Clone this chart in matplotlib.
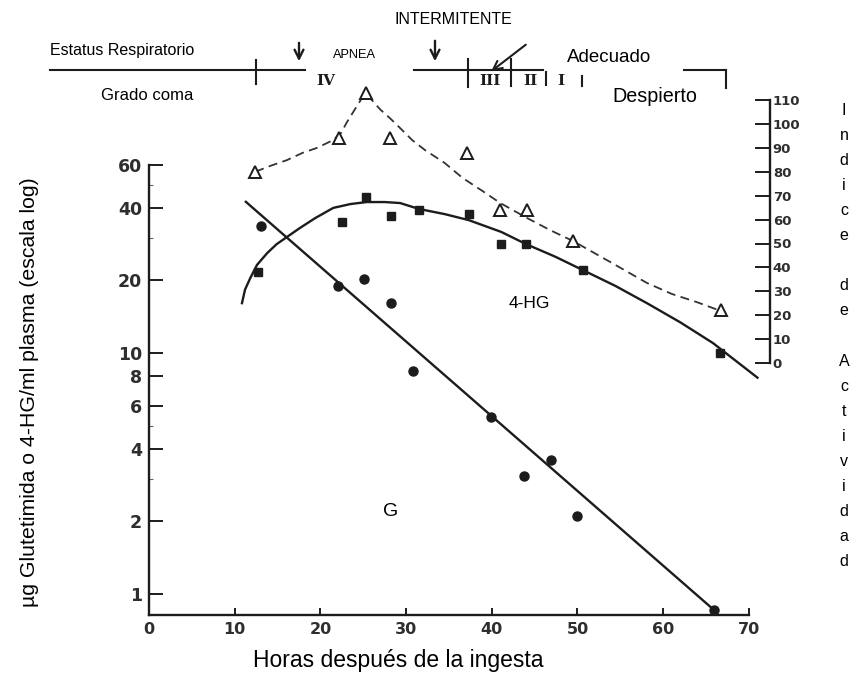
import matplotlib
matplotlib.use("Agg")
import matplotlib.pyplot as plt
from matplotlib.lines import Line2D

# ---- data ----
hours_g = [13.1, 22.1, 25.1, 28.2, 30.8, 39.9, 43.8, 46.9, 49.9, 65.9]
glut = [33.6, 19.0, 20.3, 16.1, 8.4, 5.4, 3.1, 3.6, 2.1, 0.86]

hours_hg = [12.7, 22.5, 25.3, 28.2, 31.5, 37.3, 41.1, 44.0, 50.6, 66.6]
hg4 = [21.7, 35.0, 44.4, 37.0, 39.2, 37.7, 28.3, 28.3, 22.1, 10.0]

hours_act = [12.4, 22.2, 25.3, 28.1, 37.1, 41.0, 44.1, 49.5, 66.7]
activity = [80, 94, 113, 94, 88, 64, 64, 51, 22]

# hand-drawn fitted lines of the original
g_fit_hours = [11.3, 65.9]
g_fit_vals = [42.4, 0.86]

hg_fit_hours = [10.85, 11.2, 11.8, 12.6, 13.8, 14.9, 16.1, 17.6, 19.4, 21.5, 23.5, 25.4,
                27.5, 29.3, 31.5, 34.5, 37.3, 41.1, 44.0, 47.4, 50.6, 54.4, 58.1, 62.0,
                65.8, 71.0]
hg_fit_vals = [16.1, 18.3, 20.4, 23.2, 26.0, 28.3, 30.3, 33.0, 36.3, 40.0, 41.5, 42.3,
               42.3, 41.9, 39.6, 37.7, 35.6, 31.8, 28.3, 25.1, 22.1, 19.0, 16.1, 13.4,
               11.0, 7.9]

act_fit_hours = [12.4, 14.1, 16.1, 17.9, 19.6, 21.5, 22.4, 23.1, 24.0, 24.7, 25.3, 26.0,
                 27.0, 28.1, 29.3, 30.7, 32.2, 34.5, 36.6, 38.9, 41.0, 44.1, 46.8, 49.5,
                 53.8, 58.1, 61.0, 63.9, 66.7]
act_fit_vals = [80, 82.4, 84.9, 87.9, 90, 93.3, 96.2, 100.8, 106, 110, 113, 110,
                106, 102.5, 98.3, 93.3, 89.1, 83.7, 77.4, 72, 66.9, 60.7, 55.6, 51,
                42.3, 33.5, 28.9, 25.5, 21.8]

x_ticks = [0, 10, 20, 30, 40, 50, 60, 70]
y_ticks = [1, 2, 4, 6, 8, 10, 20, 40, 60]
y_minor = [3, 5, 30, 50]
act_ticks = list(range(0, 111, 10))

right_title = list("Indice") + [""] + list("de") + [""] + list("Actividad")

# ---- layout (pixel geometry of the 853x677 image) ----
W, H = 853, 677
ink = "#1c1c1c"
lab = "#2e2e2e"
sans = "Liberation Sans"

fig = plt.figure(figsize=(W / 100, H / 100), dpi=100)

x0_px, px_per_h = 149, 8.57
bot_px, top_px = 615, 80
ax = fig.add_axes([x0_px / W, 1 - bot_px / H, px_per_h * 75 / W, (bot_px - top_px) / H])
ax.set_xlim(0, 75)
ax.set_yscale("log")
# log axis: 1 -> 594 px, 241 px per decade
ax.set_ylim(10 ** ((594 - bot_px) / 241), 10 ** ((594 - top_px) / 241))

ax.spines["top"].set_visible(False)
ax.spines["right"].set_visible(False)
ax.spines["left"].set_bounds(ax.get_ylim()[0], 60)
ax.spines["bottom"].set_bounds(0, 70)
for s in ("left", "bottom"):
    ax.spines[s].set_linewidth(1.7)
    ax.spines[s].set_color(ink)

ax.set_xticks(x_ticks)
ax.set_xticklabels([str(t) for t in x_ticks])
ax.set_yticks(y_ticks)
ax.set_yticklabels([str(t) for t in y_ticks])
ax.set_yticks(y_minor, minor=True)
ax.yaxis.set_minor_formatter(plt.NullFormatter())
ax.xaxis.set_minor_locator(plt.NullLocator())
ax.tick_params(axis="x", which="major", direction="in", length=5, width=1.4,
               color=ink, labelsize=11.5, labelcolor=lab, pad=5)
ax.tick_params(axis="y", which="major", direction="in", length=10, width=1.4,
               color=ink, labelsize=12.5, labelcolor=lab, pad=5)
ax.tick_params(axis="y", which="minor", direction="in", length=3, width=0.8, color="#666666")
for t in ax.get_xticklabels() + ax.get_yticklabels():
    t.set_fontweight("bold")

ax.plot(g_fit_hours, g_fit_vals, color=ink, lw=1.7, clip_on=False)
ax.plot(hg_fit_hours, hg_fit_vals, color=ink, lw=1.7, clip_on=False)
ax.plot(hours_g, glut, "o", color=ink, ms=6.5, clip_on=False)
ax.plot(hours_hg, hg4, "s", color=ink, ms=6, clip_on=False)

ax.text(28.2, 2.2, "G", fontsize=14, family=sans, ha="center", va="center")
ax.text(44.4, 16.1, "4-HG", fontsize=12.5, family=sans, ha="center", va="center")

ax.set_xlabel("Horas después de la ingesta", fontsize=16.5, family=sans)
ax.xaxis.set_label_coords((398 - x0_px) / (px_per_h * 75), (bot_px - 660) / (bot_px - top_px))
ax.xaxis.label.set_va("center")
ax.set_ylabel("µg Glutetimida o 4-HG/ml plasma (escala log)", fontsize=15.3, family=sans)
ax.yaxis.set_label_coords((30 - x0_px) / (px_per_h * 75), (bot_px - 392) / (bot_px - top_px))
ax.yaxis.label.set_va("center")

# activity index on the right
ax2 = ax.twinx()
ax2.set_ylim((363 - bot_px) / 2.39, (363 - top_px) / 2.39)
for s in ("top", "left", "bottom"):
    ax2.spines[s].set_visible(False)
ax2.spines["right"].set_position(("data", (770 - x0_px) / px_per_h))
ax2.spines["right"].set_bounds(0, 110)
ax2.spines["right"].set_linewidth(1.7)
ax2.spines["right"].set_color(ink)
ax2.set_yticks(act_ticks)
ax2.set_yticklabels([str(t) for t in act_ticks])
ax2.tick_params(axis="y", direction="in", length=11, width=1.4, color=ink,
                labelsize=9.5, labelcolor=lab, pad=2)
for t in ax2.get_yticklabels():
    t.set_fontweight("bold")
ax2.plot(act_fit_hours, act_fit_vals, color="#333333", lw=1.3, dashes=(5, 3))
ax2.plot(hours_act, activity, "^", mfc="white", mec=ink, mew=1.4, ms=8, clip_on=False)

fig.text(844 / W, 1 - 336 / H, "\n".join(right_title), fontsize=11.5, family=sans,
         ha="center", va="center", linespacing=1.84)


# ---- respiratory status / coma grade header ----
def fx(px):
    return px / W


def fy(py):
    return 1 - py / H


def hline(x1, x2, y, lw=1.5):
    fig.add_artist(Line2D([fx(x1), fx(x2)], [fy(y), fy(y)], color=ink, lw=lw))


def vline(x, y1, y2, lw=1.5):
    fig.add_artist(Line2D([fx(x), fx(x)], [fy(y1), fy(y2)], color=ink, lw=lw))


hline(50, 305, 70)
vline(256, 60, 84)
hline(414, 543, 70)
vline(468, 59, 87)
vline(511, 59, 86)
vline(546, 72, 85)
vline(582, 76, 86)
hline(684, 726, 70)
vline(726, 70, 88)

for x, y1, y2 in [(299, 40, 64), (435, 38, 64)]:
    fig.add_artist(plt.Annotation("", xy=(fx(x), fy(y2)), xytext=(fx(x), fy(y1)),
                                  xycoords="figure fraction",
                                  arrowprops=dict(arrowstyle="->", color=ink, lw=1.7,
                                                  mutation_scale=16)))
fig.add_artist(plt.Annotation("", xy=(fx(489), fy(73)), xytext=(fx(528), fy(43)),
                              xycoords="figure fraction",
                              arrowprops=dict(arrowstyle="->", color=ink, lw=1.5,
                                              mutation_scale=16)))

fig.text(fx(453), fy(20), "INTERMITENTE", fontsize=11.5, family=sans, ha="center", va="center")
fig.text(fx(50), fy(51), "Estatus Respiratorio", fontsize=11.5, family=sans, ha="left", va="center")
fig.text(fx(354), fy(55), "APNEA", fontsize=9.2, family=sans, ha="center", va="center")
fig.text(fx(609), fy(57), "Adecuado", fontsize=13.5, family=sans, ha="center", va="center")
fig.text(fx(147), fy(95), "Grado coma", fontsize=12, family=sans, ha="center", va="center")
fig.text(fx(655), fy(97), "Despierto", fontsize=14.2, family=sans, ha="center", va="center")
for x, s in [(326, "IV"), (490, "III"), (530, "II"), (561, "I")]:
    fig.text(fx(x), fy(81), s, fontsize=11, family="DejaVu Serif", weight="bold",
             ha="center", va="center", color=ink)

fig.savefig("out.png", dpi=100)
